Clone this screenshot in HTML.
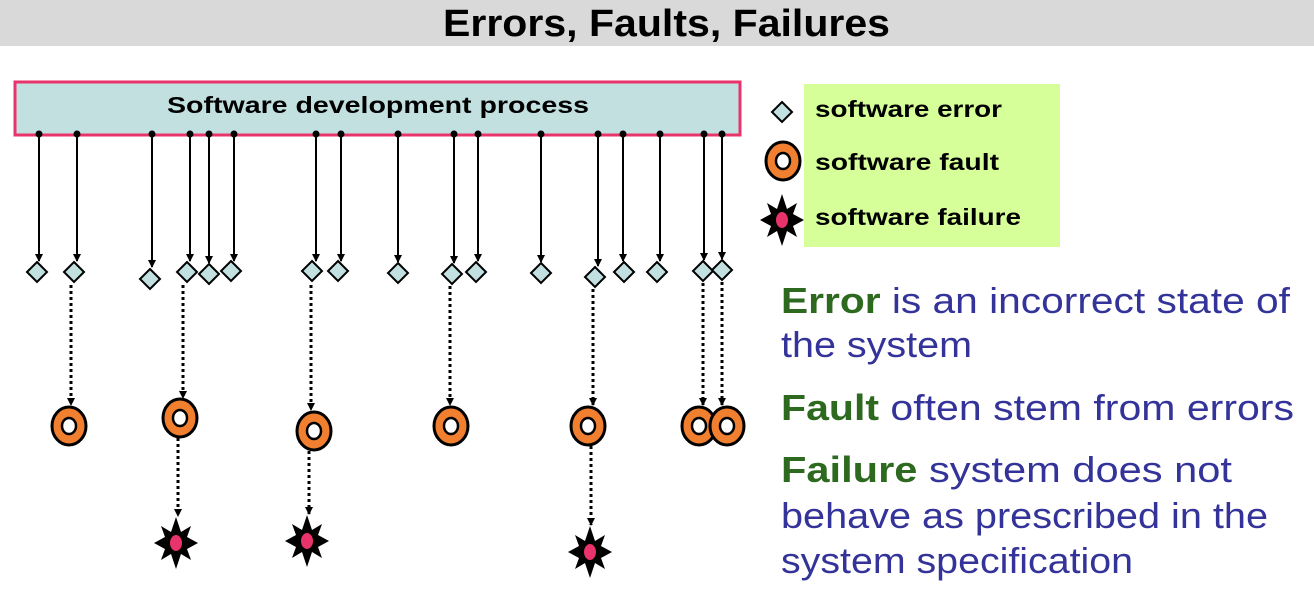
<!DOCTYPE html>
<html><head><meta charset="utf-8"><style>
html,body{margin:0;padding:0;background:#fff;width:1314px;height:600px;overflow:hidden}
svg{display:block}
</style></head><body>
<svg width="1314" height="600" xmlns="http://www.w3.org/2000/svg">
<defs>
<marker id="ah" markerWidth="8" markerHeight="8" refX="7" refY="4" orient="auto" markerUnits="userSpaceOnUse"><path d="M0,0 L8,4 L0,8 Z" fill="#000"/></marker>
<g id="dia"><path d="M0,-10 L10,0 L0,10 L-10,0 Z" fill="#c2e0e0" stroke="#000" stroke-width="2"/></g>
<g id="ring"><ellipse cx="0" cy="0" rx="17" ry="19" fill="#f07f30" stroke="#000" stroke-width="3"/><ellipse cx="0" cy="0" rx="7" ry="8" fill="#fff" stroke="#000" stroke-width="2.5"/></g>
<g id="star"><path d="M0,-26 L5,-11 L15,-17 L11,-6 L22,0 L11,6 L15,17 L5,11 L0,26 L-5,11 L-15,17 L-11,6 L-22,0 L-11,-6 L-15,-17 L-5,-11 Z" fill="#000"/><ellipse cx="0" cy="0" rx="6" ry="8" fill="#e8336b"/></g>
</defs>
<rect x="0" y="0" width="1314" height="46" fill="#d9d9d9"/>
<text x="443" y="36" textLength="447" lengthAdjust="spacingAndGlyphs" font-family="Liberation Sans, sans-serif" font-weight="bold" font-size="38">Errors, Faults, Failures</text>
<rect x="15" y="82" width="725" height="53" fill="#c2e0e0" stroke="#e8336b" stroke-width="3"/>
<text x="167" y="113" textLength="422" lengthAdjust="spacingAndGlyphs" font-family="Liberation Sans, sans-serif" font-weight="bold" font-size="23">Software development process</text>
<g stroke="#000" stroke-width="2" marker-end="url(#ah)">
<line x1="39" y1="134" x2="39" y2="261"/>
<line x1="77" y1="134" x2="77" y2="261"/>
<line x1="152" y1="134" x2="152" y2="267"/>
<line x1="190" y1="134" x2="190" y2="261"/>
<line x1="209" y1="134" x2="209" y2="263"/>
<line x1="234" y1="134" x2="234" y2="261"/>
<line x1="316" y1="134" x2="316" y2="261"/>
<line x1="341" y1="134" x2="341" y2="261"/>
<line x1="398" y1="134" x2="398" y2="262"/>
<line x1="454" y1="134" x2="454" y2="263"/>
<line x1="478" y1="134" x2="478" y2="261"/>
<line x1="541" y1="134" x2="541" y2="262"/>
<line x1="598" y1="134" x2="598" y2="266"/>
<line x1="623" y1="134" x2="623" y2="261"/>
<line x1="660" y1="134" x2="660" y2="261"/>
<line x1="704" y1="134" x2="704" y2="260"/>
<line x1="722" y1="134" x2="722" y2="259"/>
</g>
<g fill="#000">
<circle cx="39" cy="134" r="3.5"/><circle cx="77" cy="134" r="3.5"/><circle cx="152" cy="134" r="3.5"/><circle cx="190" cy="134" r="3.5"/><circle cx="209" cy="134" r="3.5"/><circle cx="234" cy="134" r="3.5"/><circle cx="316" cy="134" r="3.5"/><circle cx="341" cy="134" r="3.5"/><circle cx="398" cy="134" r="3.5"/><circle cx="454" cy="134" r="3.5"/><circle cx="478" cy="134" r="3.5"/><circle cx="541" cy="134" r="3.5"/><circle cx="598" cy="134" r="3.5"/><circle cx="623" cy="134" r="3.5"/><circle cx="660" cy="134" r="3.5"/><circle cx="704" cy="134" r="3.5"/><circle cx="722" cy="134" r="3.5"/>
</g>
<use href="#dia" x="37" y="272"/><use href="#dia" x="74" y="272"/><use href="#dia" x="150" y="279"/><use href="#dia" x="187" y="272"/><use href="#dia" x="209" y="274"/><use href="#dia" x="231" y="271"/><use href="#dia" x="312" y="271"/><use href="#dia" x="338" y="271"/><use href="#dia" x="398" y="273"/><use href="#dia" x="452" y="274"/><use href="#dia" x="476" y="272"/><use href="#dia" x="541" y="273"/><use href="#dia" x="595" y="277"/><use href="#dia" x="624" y="272"/><use href="#dia" x="657" y="272"/><use href="#dia" x="703" y="271"/><use href="#dia" x="722" y="270"/>
<g stroke="#000" stroke-width="3" stroke-dasharray="3,3" marker-end="url(#ah)">
<line x1="71" y1="285" x2="71" y2="405"/>
<line x1="183" y1="285" x2="183" y2="398"/>
<line x1="311" y1="285" x2="311" y2="410"/>
<line x1="450" y1="286" x2="450" y2="405"/>
<line x1="593" y1="289" x2="593" y2="405"/>
<line x1="703" y1="283" x2="703" y2="405"/>
<line x1="722" y1="282" x2="722" y2="405"/>
<line x1="178" y1="438" x2="178" y2="516"/>
<line x1="309" y1="451" x2="309" y2="514"/>
<line x1="591" y1="446" x2="591" y2="525"/>
</g>
<use href="#ring" x="69" y="426"/><use href="#ring" x="180" y="418"/><use href="#ring" x="314" y="431"/><use href="#ring" x="451" y="426"/><use href="#ring" x="588" y="426"/><use href="#ring" x="699" y="426"/><use href="#ring" x="727" y="426"/>
<use href="#star" x="176" y="543"/><use href="#star" x="307" y="541"/><use href="#star" x="590" y="552"/>
<rect x="804" y="84" width="256" height="163" fill="#d6ff99"/>
<use href="#dia" x="782" y="112"/>
<use href="#ring" x="783" y="161"/>
<use href="#star" x="782" y="220"/>
<g font-family="Liberation Sans, sans-serif" font-weight="bold" font-size="23" fill="#000" lengthAdjust="spacingAndGlyphs">
<text x="815" y="117" textLength="187" lengthAdjust="spacingAndGlyphs">software error</text>
<text x="815" y="170" textLength="184" lengthAdjust="spacingAndGlyphs">software fault</text>
<text x="815" y="225" textLength="206" lengthAdjust="spacingAndGlyphs">software failure</text>
</g>
<g font-family="Liberation Sans, sans-serif" font-size="36" fill="#333399">
<text x="781" y="313" textLength="509" lengthAdjust="spacingAndGlyphs"><tspan fill="#2d6a1f" font-weight="bold">Error</tspan> is an incorrect state of</text>
<text x="781" y="357" textLength="191" lengthAdjust="spacingAndGlyphs">the system</text>
<text x="781" y="420" textLength="513" lengthAdjust="spacingAndGlyphs"><tspan fill="#2d6a1f" font-weight="bold">Fault</tspan> often stem from errors</text>
<text x="781" y="482" textLength="451" lengthAdjust="spacingAndGlyphs"><tspan fill="#2d6a1f" font-weight="bold">Failure</tspan>  system does not</text>
<text x="781" y="528" textLength="487" lengthAdjust="spacingAndGlyphs">behave as prescribed in the</text>
<text x="781" y="573" textLength="352" lengthAdjust="spacingAndGlyphs">system specification</text>
</g>
</svg>
</body></html>
